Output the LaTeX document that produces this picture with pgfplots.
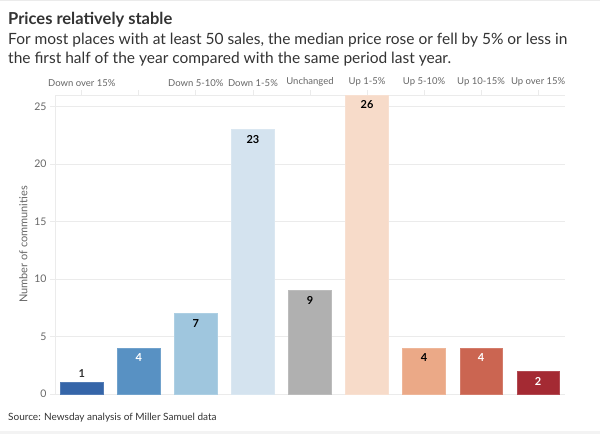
\documentclass[border=0pt]{standalone}
\usepackage{pgfplots}
\pgfplotsset{compat=1.18}
\usepackage{fontspec}
\setmainfont{Lato}
\definecolor{c1}{HTML}{3565A8}
\definecolor{c2}{HTML}{5891C3}
\definecolor{c3}{HTML}{9FC6DE}
\definecolor{c4}{HTML}{D4E3EF}
\definecolor{c5}{HTML}{B0B0B0}
\definecolor{c6}{HTML}{F7DBC9}
\definecolor{c7}{HTML}{EBA987}
\definecolor{c8}{HTML}{CB6551}
\definecolor{c9}{HTML}{A42A33}
\definecolor{txt}{HTML}{333333}
\definecolor{tick}{HTML}{666666}
\definecolor{gridc}{HTML}{EBEBEB}
\begin{document}
\begin{tikzpicture}[x=1pt,y=1pt]
\path[use as bounding box] (0,0) rectangle (600,434);
\fill[gridc!60] (0,0) rectangle (600,3);
\draw[gridc, line width=1pt] (0,433.5) -- (600,433.5);
\node[anchor=base west, inner sep=0, font=\bfseries\fontsize{16.5}{20}\selectfont, text=txt] at (8,409) {Prices relatively stable};
\node[anchor=base west, inner sep=0, font=\fontsize{15.5}{19}\selectfont, text=txt] at (8,389) {For most places with at least 50 sales, the median price rose or fell by 5\% or less in};
\node[anchor=base west, inner sep=0, font=\fontsize{15.5}{19}\selectfont, text=txt] at (8,370) {the first half of the year compared with the same period last year.};
\node[anchor=base west, inner sep=0, font=\fontsize{10}{12}\selectfont, text=txt] at (8,13) {Source: Newsday analysis of Miller Samuel data};
\begin{axis}[
  at={(81.8pt,40pt)}, anchor=origin,
  scale only axis, width=510pt, height=299pt,
  xmin=-0.47, xmax=8.47, ymin=0, ymax=26,
  axis x line=top, axis y line=left,
  axis line style={draw=gridc, -},
  xtick={0,...,8},
  xticklabels={Down over 15\%,,Down 5-10\%,Down 1-5\%,Unchanged,Up 1-5\%,Up 5-10\%,Up 10-15\%,Up over 15\%},
  ytick={0,5,...,25},
  ymajorgrids, grid style={draw=gridc, line width=0.8pt},
  tick align=outside, major tick length=5pt,
  tick style={draw=gridc, line width=0.8pt},
  xticklabel style={font=\fontsize{9.5}{11}\selectfont, text=tick},
  yticklabel style={font=\fontsize{10.5}{12}\selectfont, text=tick},
  ylabel={Number of communities},
  ylabel style={font=\fontsize{11}{13}\selectfont, text=tick},
  /pgf/number format/assume math mode=true,
  clip=false,
]
\addplot[ybar, bar width=0.75, bar shift=0pt, fill=c1, draw=c1!85!white, nodes near coords, every node near coord/.append style={anchor=center, yshift=9pt, font=\bfseries\fontsize{11}{13}\selectfont, text=txt}] coordinates {(0,1)};
\addplot[ybar, bar width=0.75, bar shift=0pt, fill=c2, draw=c2!85!white, nodes near coords, every node near coord/.append style={anchor=center, yshift=-10pt, font=\bfseries\fontsize{11}{13}\selectfont, text=white}] coordinates {(1,4)};
\addplot[ybar, bar width=0.75, bar shift=0pt, fill=c3, draw=c3!85!white, nodes near coords, every node near coord/.append style={anchor=center, yshift=-10pt, font=\bfseries\fontsize{11}{13}\selectfont, text=black}] coordinates {(2,7)};
\addplot[ybar, bar width=0.75, bar shift=0pt, fill=c4, draw=c4!85!white, nodes near coords, every node near coord/.append style={anchor=center, yshift=-10pt, font=\bfseries\fontsize{11}{13}\selectfont, text=black}] coordinates {(3,23)};
\addplot[ybar, bar width=0.75, bar shift=0pt, fill=c5, draw=c5!85!white, nodes near coords, every node near coord/.append style={anchor=center, yshift=-10pt, font=\bfseries\fontsize{11}{13}\selectfont, text=black}] coordinates {(4,9)};
\addplot[ybar, bar width=0.75, bar shift=0pt, fill=c6, draw=c6!85!white, nodes near coords, every node near coord/.append style={anchor=center, yshift=-10pt, font=\bfseries\fontsize{11}{13}\selectfont, text=black}] coordinates {(5,26)};
\addplot[ybar, bar width=0.75, bar shift=0pt, fill=c7, draw=c7!85!white, nodes near coords, every node near coord/.append style={anchor=center, yshift=-10pt, font=\bfseries\fontsize{11}{13}\selectfont, text=black}] coordinates {(6,4)};
\addplot[ybar, bar width=0.75, bar shift=0pt, fill=c8, draw=c8!85!white, nodes near coords, every node near coord/.append style={anchor=center, yshift=-10pt, font=\bfseries\fontsize{11}{13}\selectfont, text=white}] coordinates {(7,4)};
\addplot[ybar, bar width=0.75, bar shift=0pt, fill=c9, draw=c9!85!white, nodes near coords, every node near coord/.append style={anchor=center, yshift=-10pt, font=\bfseries\fontsize{11}{13}\selectfont, text=white}] coordinates {(8,2)};
\end{axis}
\end{tikzpicture}
\end{document}
